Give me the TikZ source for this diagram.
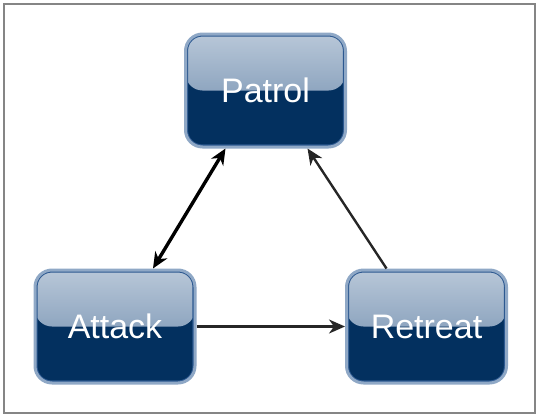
\documentclass[tikz,border=0pt]{standalone}
\usepackage{fontspec}
\setmainfont{Liberation Sans}
\usetikzlibrary{positioning,arrows.meta,calc}

\definecolor{navy}{HTML}{03305F}
\definecolor{lighttop}{HTML}{B8C7D8}
\definecolor{midblue}{HTML}{6685A8}
\definecolor{edgeblue}{HTML}{8FA8C6}
\definecolor{innerblue}{HTML}{2C5890}
\definecolor{framegray}{HTML}{858585}

\tikzset{
  statebox/.style={rounded corners=17pt, minimum width=160pt, minimum height=113pt,
    fill=navy, draw=edgeblue, line width=3pt, text=white,
    font=\fontsize{34}{38}\selectfont,
    path picture={
      \fill[top color=lighttop, bottom color=midblue]
        (path picture bounding box.north west) rectangle (path picture bounding box.east);
      \draw[innerblue, line width=2pt, rounded corners=15pt]
        ([shift={(1.6pt,-1.6pt)}]path picture bounding box.north west) rectangle
        ([shift={(-1.6pt,1.6pt)}]path picture bounding box.south east);
    }},
  tip/.tip={Stealth[length=16pt,width=14pt,inset=5pt]},
  trans/.style={-tip, line width=2.4pt, draw=black!85},
}

\begin{document}
\begin{tikzpicture}[x=1pt,y=-1pt]
\useasboundingbox (0,0) rectangle (537,415);
\draw[framegray, line width=2pt] (4,4) rectangle (535,413);

\node[statebox] (patrol) at (265.5,90.5) {Patrol};
\node[statebox] (attack) at (115,326.5) {Attack};
\node[statebox] (retreat) at (426.5,326.5) {Retreat};

\draw[trans, tip-tip, line width=3.4pt, draw=black]
  ([xshift=38pt]attack.north) -- ([xshift=-40pt]patrol.south);
\draw[trans] ([xshift=-40pt]retreat.north) -- ([xshift=42pt]patrol.south);
\draw[trans] (attack.east) -- (retreat.west);

\end{tikzpicture}
\end{document}
